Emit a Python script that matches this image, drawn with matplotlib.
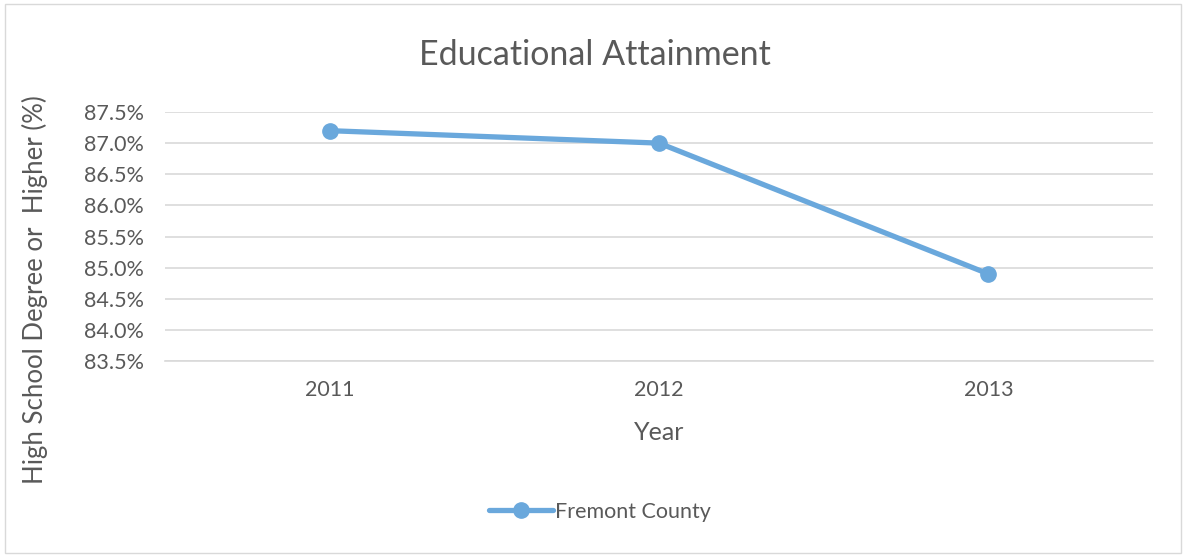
import matplotlib
matplotlib.use("Agg")
import matplotlib.pyplot as plt
from matplotlib.patches import Rectangle

years = ["2011", "2012", "2013"]
attainment = [87.2, 87.0, 84.9]
y_ticks = [83.5, 84.0, 84.5, 85.0, 85.5, 86.0, 86.5, 87.0, 87.5]

LINE = "#6aa8dc"
TEXT = "#595959"
GRID = "#d9d9d9"

plt.rcParams["font.family"] = ["Lato", "DejaVu Sans"]

fig = plt.figure(figsize=(11.86, 5.58), dpi=100)
fig.patches.append(Rectangle((0.004, 0.009), 0.992, 0.983, transform=fig.transFigure,
                             fill=False, edgecolor="#d9d9d9", linewidth=1))

ax = fig.add_axes([0.1391, 0.353, 0.9722 - 0.1391, 0.7993 - 0.353])
x = range(len(years))
ax.plot(x, attainment, color=LINE, linewidth=3.8, marker="o", markersize=11,
        solid_capstyle="round", label="Fremont County", zorder=3)

ax.set_xlim(-0.5, 2.5)
ax.set_ylim(83.5, 87.5)
ax.set_xticks(list(x))
ax.set_xticklabels(years)
ax.set_yticks(y_ticks)
ax.set_yticklabels([f"{v:.1f}%" for v in y_ticks])
ax.tick_params(axis="y", length=0, labelsize=15.5, colors=TEXT, pad=15)
ax.tick_params(axis="x", length=0, labelsize=15.5, colors=TEXT, pad=14)
ax.grid(axis="y", color=GRID, linewidth=1.2)
ax.set_axisbelow(True)
for s in ["top", "right", "left"]:
    ax.spines[s].set_visible(False)
ax.spines["bottom"].set_color(GRID)
ax.spines["bottom"].set_linewidth(1.2)

fig.text(0.5 * (418 + 772) / 1186, 1 - 55 / 558, "Educational Attainment", ha="center", va="center",
         fontsize=24.5, color=TEXT)
fig.text(659 / 1186, 1 - 433 / 558, "Year", ha="center", va="center", fontsize=18, color=TEXT)
fig.text(35 / 1186, 1 - 290 / 558, "High School Degree or  Higher (%)", rotation=90,
         ha="center", va="center", fontsize=18.5, color=TEXT)

leg = fig.legend(loc="center", bbox_to_anchor=(600 / 1186, 1 - 512 / 558), frameon=False,
                 fontsize=15.5, handlelength=3.0, handletextpad=0.1)
for t in leg.get_texts():
    t.set_color(TEXT)

fig.savefig("out.png", dpi=100)
